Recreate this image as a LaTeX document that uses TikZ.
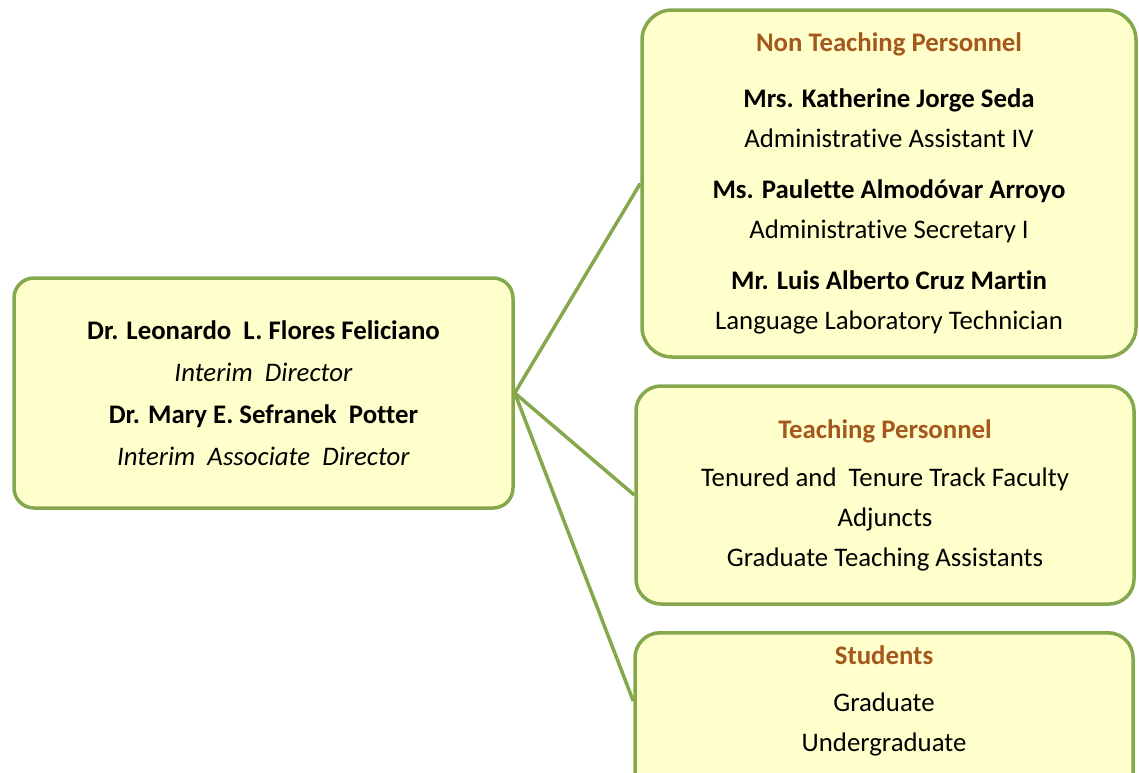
\documentclass[tikz,border=0pt]{standalone}
\usepackage{fontspec}
\setmainfont[Ligatures=NoCommon]{Carlito}
\definecolor{boxgreen}{RGB}{134,168,77}
\definecolor{boxfill}{RGB}{255,255,204}
\definecolor{headbrown}{RGB}{165,88,30}
\newcommand{\headline}[1]{{\color{headbrown}\bfseries #1}}
\tikzset{
  unit/.style={draw=boxgreen, line width=3.5pt, fill=boxfill, rounded corners=#1,
    align=center, inner sep=0pt, font=\fontsize{26.8}{40}\selectfont},
  unit/.default=25pt,
  link/.style={draw=boxgreen, line width=3.5pt}
}
\begin{document}
\begin{tikzpicture}[x=1pt, y=-1pt]
    \clip (0,0) rectangle (1139,772);
    \node (lead) at (263.5,393) [unit=20pt, minimum width=499pt, minimum height=230pt, font=\fontsize{26.8}{42}\selectfont]
        {\textbf{Dr. Leonardo\ \ L. Flores Feliciano}\\ \textit{Interim\ \ Director}\\
         \textbf{Dr. Mary E. Sefranek\ \ Potter}\\ \textit{Interim\ \ Associate\ \ Director}};
    \node (ntp) at (889,183.5) [unit=30pt, minimum width=494pt, minimum height=347pt]
        {\headline{Non Teaching Personnel}\\[16pt]
         \textbf{Mrs. Katherine Jorge Seda}\\ Administrative Assistant IV\\[11pt]
         \textbf{Ms. Paulette Almodóvar Arroyo}\\ Administrative Secretary I\\[11pt]
         \textbf{Mr. Luis Alberto Cruz Martin}\\ Language Laboratory Technician};
    \node (tp) at (885,495) [unit, minimum width=498pt, minimum height=218pt]
        {\headline{Teaching Personnel}\\[8pt]
         Tenured and\ \ Tenure Track Faculty\\ Adjuncts\\ Graduate Teaching Assistants};
    \node (stu) at (884,631) [unit, anchor=north, minimum width=498pt, minimum height=200pt]{};
    \node (stutext) at (884,701) [align=center, font=\fontsize{26.8}{40}\selectfont]
        {\headline{Students}\\[7pt] Graduate\\ Undergraduate};
    \coordinate (stuin) at (stu.north west |- stutext);
    \draw[link] (lead.east) -- (ntp.west);
    \draw[link] (lead.east) -- (tp.west);
    \draw[link] (lead.east) -- (stuin);
\end{tikzpicture}
\end{document}
